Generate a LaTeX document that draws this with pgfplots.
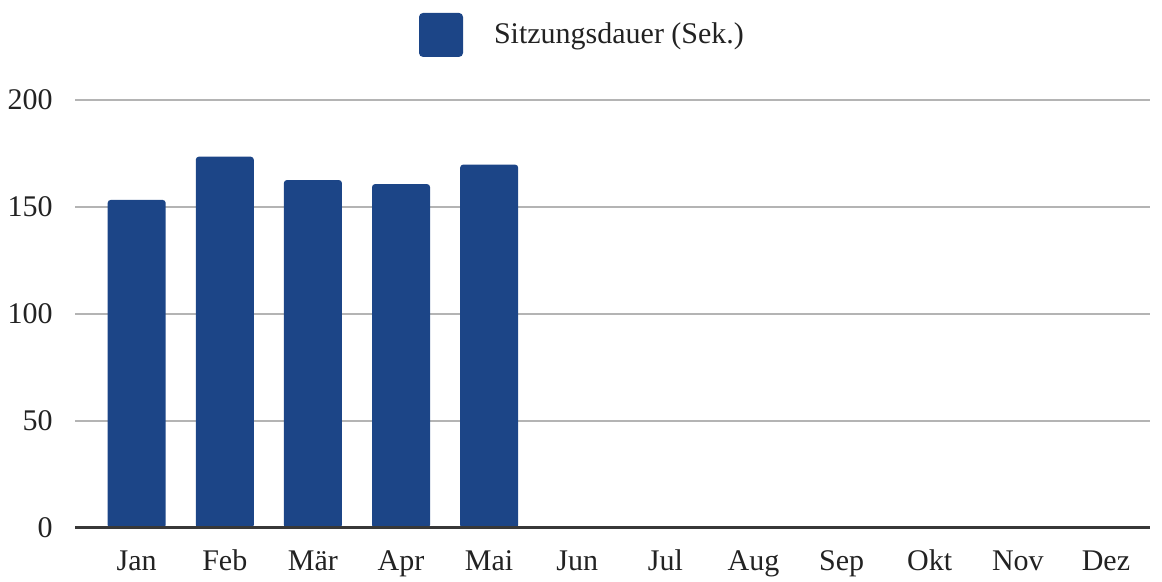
\documentclass[border=0pt]{standalone}
\usepackage{fontspec}
\setmainfont{Liberation Serif}
\usepackage{pgfplots}
\pgfplotsset{compat=1.18}
\definecolor{barblue}{HTML}{1C4587}
\definecolor{gridgray}{HTML}{B4B4B4}
\definecolor{txt}{HTML}{222222}
\begin{document}
\fontsize{15pt}{18pt}\selectfont
\begin{tikzpicture}
\useasboundingbox (0,0) rectangle (581pt,291pt);
\begin{axis}[
  at={(37.5pt,27pt)}, anchor=south west,
  scale only axis, width=537.5pt, height=214pt,
  ymin=0, ymax=200, ytick={0,50,...,200},
  xmin=-0.7, xmax=11.5,
  xtick={0,...,11},
  xticklabels={Jan,Feb,Mär,Apr,Mai,Jun,Jul,Aug,Sep,Okt,Nov,Dez},
  ybar, bar width=29pt,
  axis line style={draw=none},
  major tick length=0pt, tick style={draw=none},
  ymajorgrids, grid style={gridgray, line width=1.2pt},
  /pgf/number format/assume math mode=true,
  ticklabel style={font=\fontsize{15pt}{18pt}\selectfont, text=txt},
  yticklabel style={anchor=east, xshift=-6pt},
  xticklabel style={text height=10.5pt, text depth=3pt, yshift=-5.5pt},
  legend style={at={(rel axis cs:0.473,1.152)}, anchor=center, draw=none, fill=none,
    font=\fontsize{15pt}{18pt}\selectfont, text=txt, /tikz/column sep=13.5pt},
  legend image code/.code={\fill[barblue, rounded corners=2pt] (0pt,-11pt) rectangle (22pt,11pt);},
  clip=false,
]
\addplot[fill=barblue, draw=none, rounded corners=1.5pt] coordinates {(0,153.3) (1,173.5) (2,162.6) (3,160.7) (4,169.8)};
\addlegendentry{Sitzungsdauer (Sek.)}
\draw[txt!90, line width=1.5pt] (rel axis cs:0,0) -- (rel axis cs:1,0);
\end{axis}
\end{tikzpicture}
\end{document}
